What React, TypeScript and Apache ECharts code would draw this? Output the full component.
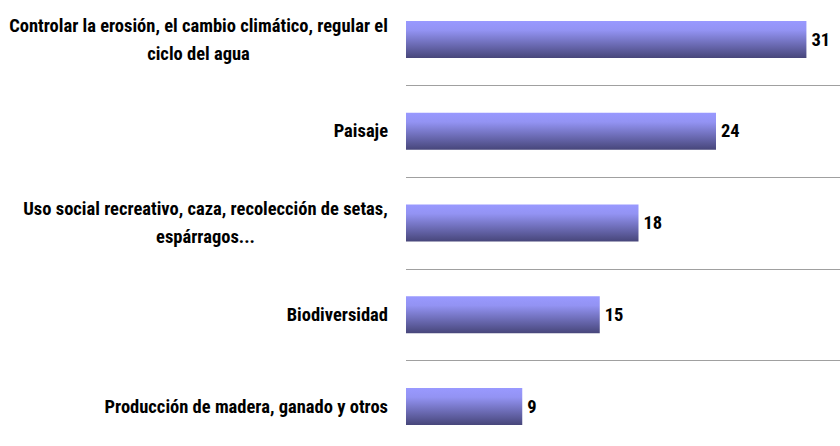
import React, { useEffect, useRef } from "react";
import * as echarts from "echarts";

const categories: string[] = [
  "Controlar la erosión, el cambio climático, regular el\nciclo del agua",
  "Paisaje",
  "Uso social recreativo, caza, recolección de setas,\nespárragos...",
  "Biodiversidad",
  "Producción de madera, ganado y otros",
];
const values: number[] = [31, 24, 18, 15, 9];

const FONT_FAMILY = '"Roboto Condensed", "Liberation Sans Narrow", sans-serif';
const FONT_SIZE = 18.5;
const FONT_WEIGHT = "bold";

function measure(text: string): number {
  const c = document.createElement("canvas").getContext("2d");
  if (!c) return text.length * 7;
  c.font = `${FONT_WEIGHT} ${FONT_SIZE}px ${FONT_FAMILY}`;
  return c.measureText(text).width;
}

export default function App() {
  const ref = useRef<HTMLDivElement>(null);
  useEffect(() => {
    if (!ref.current) return;
    const chart = echarts.init(ref.current, undefined, { renderer: "svg" });
    const rich: Record<string, any> = {};
    categories.forEach((c, i) => {
      const lines = c.split("\n");
      const w = Math.ceil(Math.max(...lines.map(measure)));
      rich["r" + i] = {
        width: w,
        align: "center",
        fontFamily: FONT_FAMILY,
        fontSize: FONT_SIZE,
        fontWeight: FONT_WEIGHT,
        color: "#000",
        lineHeight: 28,
      };
    });
    const bandH = 91.75;
    const firstCenter = 39.5;
    chart.setOption({
      animation: false,
      grid: {
        left: 406,
        right: 0,
        top: firstCenter - bandH / 2,
        height: bandH * categories.length,
        containLabel: false,
        outerBoundsMode: "none",
      },
      xAxis: {
        type: "value",
        min: 0,
        max: 33.6,
        show: false,
      },
      yAxis: {
        type: "category",
        data: categories,
        inverse: true,
        axisLine: { show: false },
        axisTick: { show: false },
        splitLine: { show: true, lineStyle: { color: "#a0a0a0", width: 1 } },
        axisLabel: {
          margin: 18,
          formatter: (v: string) => {
            const idx = categories.indexOf(v);
            const lines = v.split("\n");
            if (lines.length === 1) return v;
            return lines.map((l) => `{r${idx}|${l}}`).join("\n");
          },
          rich,
          fontFamily: FONT_FAMILY,
          fontSize: FONT_SIZE,
          fontWeight: FONT_WEIGHT,
          color: "#000",
          lineHeight: 28,
        },
      },
      series: [
        {
          type: "bar",
          data: values,
          barWidth: 37,
          itemStyle: {
            color: new echarts.graphic.LinearGradient(0, 0, 0, 1, [
              { offset: 0, color: "#9999ff" },
              { offset: 0.25, color: "#9393f3" },
              { offset: 1, color: "#47467a" },
            ]),
          },
          label: {
            show: true,
            position: "right",
            distance: 5,
            color: "#000",
            fontFamily: FONT_FAMILY,
            fontSize: FONT_SIZE,
            fontWeight: FONT_WEIGHT,
          },
        },
      ],
    });
    return () => chart.dispose();
  }, []);
  return (
    <div
      ref={ref}
      style={{ position: "fixed", left: 0, top: 0, width: 840, height: 446, background: "#fff" }}
    />
  );
}
